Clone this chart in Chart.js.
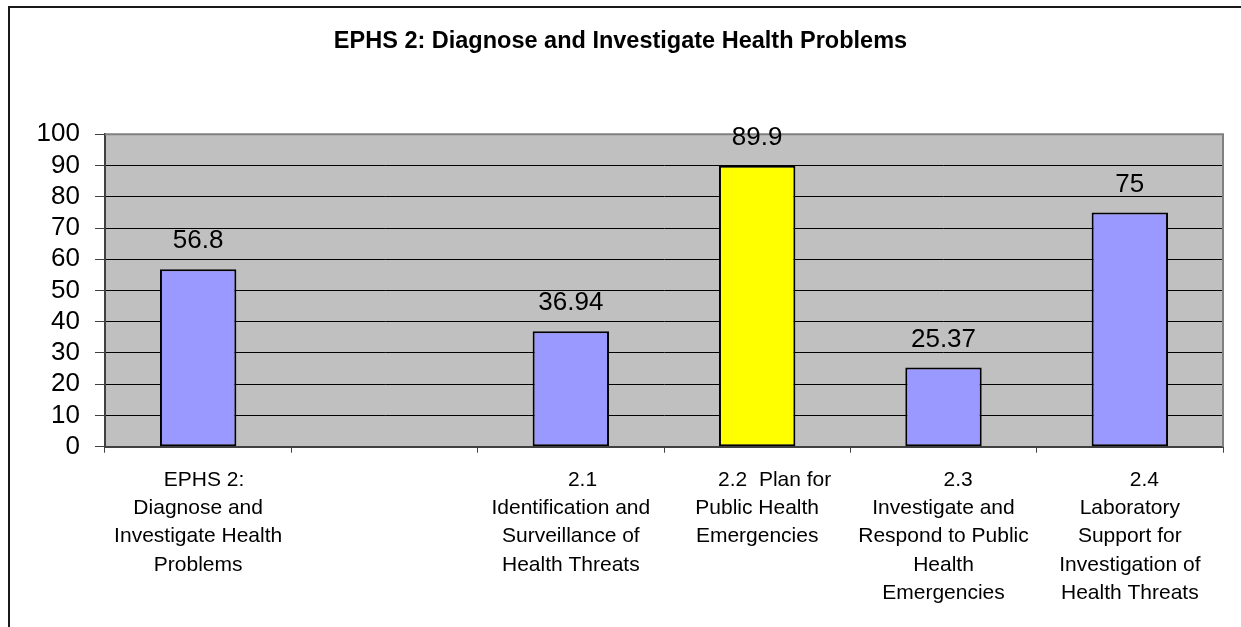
<!DOCTYPE html>
<html>
<head>
<meta charset="utf-8">
<title>EPHS 2: Diagnose and Investigate Health Problems</title>
<script src="https://cdn.jsdelivr.net/npm/chart.js@4/dist/chart.umd.min.js"></script>
<style>
  html, body { margin: 0; padding: 0; background: #fff; }
  #wrap { position: relative; width: 1241px; height: 627px; overflow: hidden; }
  #frame {
    position: absolute; left: 8px; top: 6px; width: 1300px; height: 700px;
    border-left: 2px solid #1a1a1a; border-top: 2px solid #1a1a1a;
    pointer-events: none;
  }
  canvas { position: absolute; left: 0; top: 0; }
</style>
</head>
<body>
<div id="wrap">
  <canvas id="chart" width="1241" height="627"></canvas>
  <div id="frame"></div>
</div>
<script>
// Category labels, one string per wrapped line
const categories = [
  ['  EPHS 2:', 'Diagnose and', 'Investigate Health', 'Problems'],
  '',
  ['    2.1', 'Identification and', 'Surveillance of', 'Health Threats'],
  ['      2.2  Plan for', 'Public Health', 'Emergencies'],
  ['     2.3', 'Investigate and', 'Respond to Public', 'Health', 'Emergencies'],
  ['     2.4', 'Laboratory', 'Support for', 'Investigation of', 'Health Threats']
];

// Scores per category (the second slot is an empty spacer)
const scores = [56.8, null, 36.94, 89.9, 25.37, 75];

// Bar fills: the overall score and sub-indicators in periwinkle, 2.2 highlighted
const barColors = ['#9999FF', '#9999FF', '#9999FF', '#FFFF00', '#9999FF', '#9999FF'];

// Value axis range and step
const yMin = 0;
const yMax = 100;
const yStep = 10;

const FONT = 'Arial, "Liberation Sans", sans-serif';

// Grey plot background plus the grey top/right frame of the plot area
const plotArea = {
  id: 'plotArea',
  beforeDraw(chart) {
    const { ctx, chartArea: a } = chart;
    ctx.save();
    ctx.fillStyle = '#C0C0C0';
    ctx.fillRect(a.left, a.top, a.right - a.left, a.bottom - a.top);
    ctx.restore();
  },
  beforeDatasetsDraw(chart) {
    const { ctx, chartArea: a } = chart;
    ctx.save();
    ctx.strokeStyle = '#808080';
    ctx.lineWidth = 2;
    ctx.beginPath();
    ctx.moveTo(a.left, a.top);
    ctx.lineTo(a.right, a.top);
    ctx.lineTo(a.right, a.bottom);
    ctx.stroke();
    ctx.restore();
  }
};

// Value printed above each bar
const valueLabels = {
  id: 'valueLabels',
  afterDatasetsDraw(chart) {
    const { ctx } = chart;
    const meta = chart.getDatasetMeta(0);
    ctx.save();
    ctx.font = '26px ' + FONT;
    ctx.fillStyle = '#000';
    ctx.textAlign = 'center';
    ctx.textBaseline = 'middle';
    meta.data.forEach((bar, i) => {
      const v = scores[i];
      if (v === null || v === undefined) return;
      ctx.fillText(String(v), bar.x, bar.y - 28);
    });
    ctx.restore();
  }
};

new Chart(document.getElementById('chart'), {
  type: 'bar',
  data: {
    labels: categories,
    datasets: [{
      data: scores,
      backgroundColor: barColors,
      borderColor: '#000',
      borderWidth: 2,
      borderSkipped: false,
      categoryPercentage: 1,
      barPercentage: 0.41
    }]
  },
  options: {
    responsive: false,
    animation: false,
    layout: { padding: { left: 18, right: 18, top: 0, bottom: 0 } },
    plugins: {
      legend: { display: false },
      tooltip: { enabled: false },
      title: {
        display: true,
        text: 'EPHS 2: Diagnose and Investigate Health Problems',
        color: '#000',
        font: { family: FONT, size: 23.5, weight: 'bold', lineHeight: 1.2 },
        padding: { top: 27, bottom: 79.1 }
      }
    },
    scales: {
      x: {
        offset: true,
        grid: {
          offset: true,
          drawOnChartArea: false,
          drawTicks: true,
          tickLength: 6,
          tickColor: '#404040',
          tickWidth: 1
        },
        border: { display: true, color: '#404040', width: 2 },
        ticks: {
          autoSkip: false,
          maxRotation: 0,
          minRotation: 0,
          padding: 13,
          color: '#000',
          font: { family: FONT, size: 21, lineHeight: 1.35 }
        },
        afterFit(scale) { scale.height = 180.3; }
      },
      y: {
        min: yMin,
        max: yMax,
        grid: {
          color: ctx => (ctx.tick && ctx.tick.value === yMax ? '#808080' : '#000'),
          lineWidth: 1,
          tickLength: 10,
          tickColor: '#404040'
        },
        border: { display: true, color: '#404040', width: 2 },
        ticks: {
          stepSize: yStep,
          autoSkip: false,
          padding: 15,
          color: '#000',
          font: { family: FONT, size: 26 }
        },
        afterFit(scale) { scale.width = 87; }
      }
    }
  },
  plugins: [plotArea, valueLabels]
});
</script>
</body>
</html>
